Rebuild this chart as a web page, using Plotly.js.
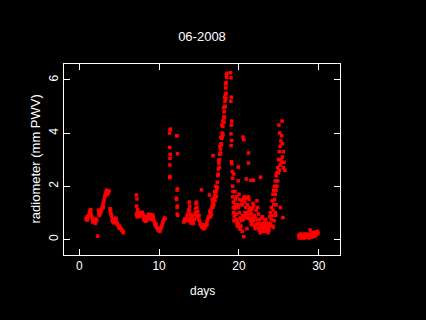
<!DOCTYPE html>
<html>
<head>
<meta charset="utf-8">
<script src="https://cdn.plot.ly/plotly-3.0.1.min.js"></script>
<style>html,body{margin:0;padding:0;background:#000;}#chart{width:426px;height:320px;}</style>
</head>
<body>
<div id="chart"></div>
<script>
// [day, PWV mm] readings, grouped by stretch of the month
var seg1 = [[0.85,0.75],[0.92,0.8],[1.0,0.72],[1.08,0.78],[1.15,0.88],[1.22,0.95],[1.3,1.05],[1.38,1.0],[1.45,1.08],[1.52,0.92],[1.6,0.82],[1.68,0.78],[1.75,0.72],[1.82,0.75],[1.9,0.68],[1.98,0.65],[2.05,0.72],[2.12,0.76],[2.2,0.7],[2.3,0.12],[2.4,1.1],[2.45,0.98],[2.52,0.9],[2.6,0.95],[2.68,1.02],[2.75,1.08],[2.82,1.15],[2.9,1.22],[2.98,1.32],[3.05,1.4],[3.12,1.5],[3.2,1.62],[3.28,1.7],[3.35,1.78],[3.42,1.85],[3.5,1.8],[3.58,1.72],[3.65,1.78],[3.72,1.82],[3.86,1.15],[3.92,1.05],[3.98,0.95],[4.05,0.85],[4.12,0.72],[4.2,0.68],[4.28,0.62],[4.35,0.7],[4.42,0.75],[4.5,0.68],[4.58,0.72],[4.65,0.62],[4.72,0.58],[4.8,0.6],[4.88,0.52],[4.95,0.48],[5.02,0.5],[5.1,0.45],[5.18,0.42],[5.25,0.38],[5.32,0.35],[5.4,0.32],[5.48,0.28],[5.55,0.25],
  [1.0,0.85],[1.3,0.92],[1.4,1.12],[1.7,0.65],[2.0,0.6],[2.5,1.05],[3.0,1.2],[3.3,1.65],[3.5,1.7],[3.9,1.12],[4.3,0.75],[4.6,0.8],[5.0,0.42]];
var seg2 = [[7.15,1.67],[7.22,1.52],[7.18,1.25],[7.3,1.12],[7.15,0.95],[7.22,0.85],[7.3,0.98],[7.38,0.9],[7.45,0.85],[7.52,0.95],[7.6,0.88],[7.68,0.92],[7.75,0.98],[7.82,1.02],[7.9,1.0],[7.98,0.95],[8.05,0.78],[8.12,0.72],[8.2,0.8],[8.28,0.75],[8.35,0.85],[8.42,0.78],[8.5,0.72],[8.58,0.8],[8.65,0.9],[8.72,0.95],[8.8,0.85],[8.88,0.92],[8.95,0.8],[9.02,0.75],[9.1,0.88],[9.18,0.92],[9.25,0.85],[9.32,0.75],[9.4,0.65],[9.48,0.58],[9.55,0.52],[9.62,0.5],[9.7,0.45],[9.78,0.42],[9.85,0.38],[9.92,0.35],[10.0,0.32],[10.08,0.3],[10.15,0.36],[10.22,0.42],[10.3,0.48],[10.38,0.55],[10.45,0.62],[10.52,0.7],[10.6,0.75],[10.68,0.8],[10.75,0.78],
  [7.4,1.0],[7.9,0.9],[8.3,0.68],[8.7,0.82],[9.2,0.78],[9.6,0.58],[10.1,0.4]];
var seg3 = [[11.3,4.0],[11.38,4.12],[11.42,4.15],[11.32,3.46],[11.38,3.2],[11.36,3.05],[11.35,2.8],[11.33,2.32],[11.36,2.36],[12.25,3.9],[12.2,3.9],[12.3,3.22],[12.25,1.85],[12.3,1.9],[12.15,1.55],[12.2,1.5],[12.25,1.2],[12.3,1.25],[12.28,0.95],[12.32,0.9]];
var seg4 = [[13.1,0.65],[13.18,0.72],[13.25,0.78],[13.32,0.7],[13.4,0.75],[13.5,0.85],[13.6,0.95],[13.7,1.1],[13.78,1.4],[13.82,1.25],[13.85,0.95],[13.9,0.8],[13.95,0.65],[14.02,0.75],[14.1,0.9],[14.18,0.85],[14.25,0.7],[14.32,0.6],[14.4,0.75],[14.48,0.95],[14.55,1.15],[14.62,1.35],[14.68,1.4],[14.75,1.2],[14.82,1.05],[14.9,0.9],[14.98,0.75],[15.05,0.7],[15.12,0.6],[15.2,0.55],[15.28,0.5],[15.3,1.86],[15.35,0.48],[15.42,0.45],[15.5,0.42],[15.58,0.4],[15.65,0.42],[15.72,0.45],[15.8,0.5],[15.88,0.55],[15.95,0.62],[16.02,0.7],[16.1,0.78],[16.18,0.85],
  [13.8,1.1],[13.82,0.7],[14.05,0.6],[14.6,1.0],[14.7,0.85],[15.0,0.9],[15.4,0.55],[15.7,0.52],[16.0,0.55],[16.3,1.67]];
var seg5 = [[16.3,0.85],[16.4,0.95],[16.5,1.1],[16.6,1.22],[16.7,1.35],[16.8,1.45],[16.9,1.55],[16.98,1.65],[17.05,1.72],[17.12,1.8],[17.2,1.9],[17.28,2.15],[17.35,2.4],[17.42,2.65],[17.5,2.85],[17.55,3.0],[17.6,3.2],[17.68,3.4],[17.75,3.6],[17.82,3.8],[17.9,4.0],[17.98,4.25],[18.05,4.45],[18.1,4.6],[18.15,4.8],[18.2,5.0],[18.25,5.2],[18.3,5.45],[18.35,5.7],[18.4,5.9],[18.45,6.1],[18.5,6.25],
  [16.35,1.05],[16.45,0.85],[16.55,0.95],[16.65,1.5],[16.75,3.15],[16.75,1.2],[16.85,1.3],[16.95,1.8],[17.0,1.45],[17.1,2.0],[17.15,1.6],[17.3,1.95],[17.4,2.45],[17.45,2.95],[17.55,2.7],[17.62,3.5],[17.7,3.25],[17.72,3.85],[17.8,3.55],[17.85,4.3],[17.92,3.85],[18.0,3.95],[18.0,4.45],[18.08,4.95],[18.12,4.4],[18.18,4.6],[18.22,5.35],[18.28,5.0],[18.32,5.85],[18.35,5.3],[18.38,5.5],[18.42,6.2],
  [18.95,6.27],[19.0,6.08],[19.05,5.35],[18.98,5.2],[19.1,4.45],[19.05,4.3],[19.0,3.97],[19.08,3.72],[19.02,3.53],[19.05,2.92],[19.1,2.84],
  [19.15,2.55],[19.2,2.3],[19.22,2.0],[19.25,1.8],[19.2,1.6],[19.3,1.4],[19.28,1.2],[19.35,1.0],[19.4,0.85],[19.38,0.7],[19.45,1.15],[19.5,1.3],[19.55,1.5],[19.6,1.2],[19.65,0.95],[19.7,0.75],[19.75,0.6],[19.8,0.5],[19.85,0.65],[19.9,2.72],
  [19.35,2.46],[19.5,1.8],[19.7,1.6],[19.85,1.3],[20.0,1.7],[20.1,1.5],[19.9,2.2]];
var seg6 = [[19.95,0.6],[19.95,1.2],[20.05,0.45],[20.05,1.0],[20.15,0.38],[20.15,0.8],[20.25,0.5],[20.25,1.3],[20.35,0.7],[20.35,1.45],[20.45,0.9],[20.45,1.3],[20.55,0.75],[20.55,1.5],[20.6,0.1],[20.65,0.85],[20.65,1.6],[20.75,1.0],[20.75,1.4],[20.85,0.9],[20.85,1.2],[20.95,1.0],[20.95,1.55],[21.05,0.8],[21.05,1.3],[21.15,0.95],[21.15,1.6],[21.25,1.1],[21.25,1.5],[21.35,0.8],[21.35,1.2],[21.45,0.7],[21.45,1.05],[21.55,0.55],[21.55,0.95],[21.65,0.6],[21.65,1.15],[21.75,0.8],[21.75,1.35],[21.85,0.7],[21.85,1.25],[21.95,0.5],[21.95,0.9],[22.05,0.4],[22.05,0.8],[22.15,0.55],[22.15,1.1],[22.25,0.75],[22.25,1.45],[22.35,0.6],[22.35,1.2],[22.45,0.45],[22.45,0.95],[22.55,0.35],[22.55,0.75],[22.65,0.25],[22.65,0.6],[22.75,0.3],[22.75,0.55],[22.85,0.45],[22.85,0.8],[22.95,0.55],[22.95,0.85],[23.05,0.35],[23.05,0.6],[23.15,0.3],[23.15,0.5],[23.25,0.4],[23.25,0.7],[23.35,0.45],[23.35,0.75],[23.45,0.35],[23.45,0.6],[23.55,0.3],[23.55,0.5],[23.65,0.25],[23.65,0.45],[23.75,0.35],[23.75,0.6],
  [20.5,3.85],[20.6,3.75],[21.2,3.25],[21.2,2.87],[20.9,2.27],[21.5,2.22],[21.8,2.22],[22.7,2.34],[20.4,0.3],[21.0,0.4]];
var seg7 = [[23.85,0.5],[23.85,0.85],[23.95,0.6],[23.95,1.0],[24.05,0.75],[24.05,1.2],[24.15,0.9],[24.15,1.45],[24.25,1.1],[24.25,1.7],[24.35,1.3],[24.35,1.85],[24.45,1.5],[24.45,2.0],[24.55,1.7],[24.55,2.2],[24.65,1.85],[24.65,2.4],[24.75,2.0],[24.75,2.5],[24.85,2.2],[24.85,2.7],[24.95,2.5],[24.95,3.0],[25.05,2.6],[25.05,3.3],[25.15,2.8],[25.15,3.5],[25.25,3.0],[25.25,3.7],[25.35,2.9],[25.35,3.9],[25.45,3.1],[25.45,3.6],[25.55,2.7],[25.55,3.3],[25.65,2.9],[25.75,2.6],
  [25.0,4.3],[25.4,4.45],[25.1,4.0],[24.3,0.45],[24.2,0.5],[24.4,0.7],[24.55,1.0],[24.65,1.3],[24.6,0.9],[25.5,0.82],[25.2,1.2]];
var seg8 = [[27.5,0.15],[27.55,0.05],[27.6,0.12],[27.7,0.2],[27.75,0.1],[27.8,0.1],[27.9,0.15],[27.95,0.05],[28.0,0.08],[28.1,0.12],[28.15,0.2],[28.2,0.05],[28.3,0.1],[28.35,0.18],[28.4,0.15],[28.5,0.08],[28.55,0.2],[28.6,0.12],[28.7,0.18],[28.75,0.05],[28.8,0.1],[28.9,0.35],[28.9,0.15],[29.0,0.2],[29.05,0.08],[29.1,0.12],[29.2,0.25],[29.25,0.1],[29.3,0.18],[29.4,0.22],[29.45,0.12],[29.5,0.15],[29.6,0.28],[29.65,0.15],[29.7,0.2],[29.8,0.25],[29.85,0.3],[29.9,0.22]];

var segments = [seg1, seg2, seg3, seg4, seg5, seg6, seg7, seg8];
var days = [], pwv = [];
segments.forEach(function (s) { s.forEach(function (p) { days.push(p[0]); pwv.push(p[1]); }); });

var fontFam = '"Liberation Sans", Arial, sans-serif';
var axisCommon = {
  showgrid: false, zeroline: false, showline: true, linecolor: '#fff', linewidth: 1,
  mirror: 'ticks', ticks: 'inside', ticklen: 6, tickcolor: '#fff', tickwidth: 1,
  tickfont: {family: fontFam, size: 12, color: '#fff'}
};

var trace = {
  x: days, y: pwv, type: 'scatter', mode: 'markers',
  marker: {symbol: 'square', size: 3.5, color: '#ff0000', line: {width: 0}},
  hoverinfo: 'skip'
};

var layout = {
  width: 426, height: 320,
  paper_bgcolor: '#000', plot_bgcolor: '#000',
  margin: {l: 64, r: 86, t: 64, b: 65},
  showlegend: false,
  title: {text: '06-2008', font: {family: fontFam, size: 13, color: '#fff'}, xref: 'paper', x: 0.5, xanchor: 'center', yref: 'container', y: 1 - 36/320, yanchor: 'middle'},
  xaxis: Object.assign({}, axisCommon, {range: [-1.91, 32.65], tickvals: [0, 10, 20, 30]}),
  yaxis: Object.assign({}, axisCommon, {range: [-0.59, 6.60], tickvals: [0, 2, 4, 6], tickangle: -90}),
  annotations: [
    {text: 'days', xref: 'paper', yref: 'paper', x: 0.5, y: 0, yshift: -36, xanchor: 'center', yanchor: 'middle', showarrow: false, font: {family: fontFam, size: 12, color: '#fff'}},
    {text: 'radiometer (mm PWV)', xref: 'paper', yref: 'paper', x: 0, y: 0.5, xshift: -29, xanchor: 'center', yanchor: 'middle', textangle: -90, showarrow: false, font: {family: fontFam, size: 13, color: '#fff'}}
  ]
};

Plotly.newPlot('chart', [trace], layout, {staticPlot: true, displayModeBar: false});
</script>
</body>
</html>
